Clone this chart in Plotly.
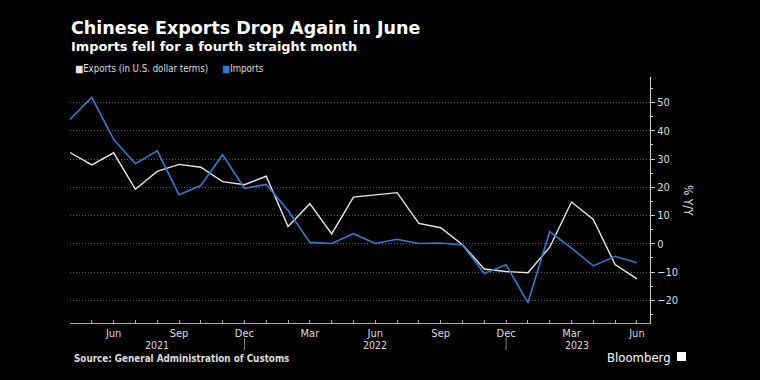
import plotly.graph_objects as go

months = ["Apr 2021", "May 2021", "Jun 2021", "Jul 2021", "Aug 2021", "Sep 2021", "Oct 2021",
          "Nov 2021", "Dec 2021", "Jan 2022", "Feb 2022", "Mar 2022", "Apr 2022", "May 2022",
          "Jun 2022", "Jul 2022", "Aug 2022", "Sep 2022", "Oct 2022", "Nov 2022", "Dec 2022",
          "Jan 2023", "Feb 2023", "Mar 2023", "Apr 2023", "May 2023", "Jun 2023"]
exports = [32.3, 27.9, 32.2, 19.3, 25.6, 28.1, 27.1, 22.0, 20.9, 23.9, 6.1, 14.2, 3.5, 16.5,
           17.3, 18.1, 7.2, 5.7, -0.3, -8.9, -9.8, -10.2, -1.2, 14.8, 8.6, -7.3, -12.4]
imports = [44.0, 51.8, 37.0, 28.3, 32.9, 17.4, 20.6, 31.5, 19.6, 21.0, 11.8, 0.5, 0.1, 3.6,
           0.1, 1.6, 0.1, 0.3, -0.4, -10.5, -7.4, -20.8, 4.3, -1.5, -7.8, -4.4, -6.7]
month_labels = ["", "", "Jun", "", "", "Sep", "", "", "Dec", "", "", "Mar", "", "", "Jun",
                "", "", "Sep", "", "", "Dec", "", "", "Mar", "", "", "Jun"]
years = ["2021", "2022", "2023"]
year_centers = [4, 14.0, 23.25]
year_breaks = [8, 20]
y_ticks = [-20, -10, 0, 10, 20, 30, 40, 50]
series_names = ["Exports (in U.S. dollar terms)", "Imports"]

WHITE = "#e6e6e6"
BLUE = "#3479d0"
FONT = "Liberation Sans Narrow, DejaVu Sans Condensed, Arial Narrow, sans-serif"

xs = list(range(len(months)))

fig = go.Figure()
fig.add_trace(go.Scatter(x=xs, y=exports, mode="lines", line=dict(color=WHITE, width=1.4),
                         name=series_names[0], text=months, hoverinfo="text+y"))
fig.add_trace(go.Scatter(x=xs, y=imports, mode="lines", line=dict(color=BLUE, width=1.6),
                         name=series_names[1], text=months, hoverinfo="text+y"))

fig.update_layout(
    width=760, height=380,
    paper_bgcolor="black", plot_bgcolor="black",
    margin=dict(l=70, r=110, t=77, b=57),
    font=dict(family=FONT, color="#dddddd", size=11),
    showlegend=False,
    xaxis=dict(range=[0, 26.6], tickmode="array", tickvals=xs, ticktext=month_labels,
               showgrid=False, zeroline=False, showline=True, linecolor="#aaaaaa", linewidth=1,
               ticks="inside", ticklen=3, tickcolor="#aaaaaa",
               tickfont=dict(size=11, color="#dddddd", family=FONT), fixedrange=True),
    yaxis=dict(range=[-28, 59], side="right", tickmode="array", tickvals=y_ticks,
               showgrid=True, gridcolor="#606060", griddash="1px,2px", gridwidth=1,
               zeroline=False, showline=True, linecolor="#cccccc", linewidth=1,
               ticks="outside", ticklen=4, tickcolor="#cccccc",
               minor=dict(tickvals=[-25, -15, -5, 5, 15, 25, 35, 45, 55], ticks="outside",
                          ticklen=2, tickcolor="#cccccc", showgrid=False),
               tickfont=dict(size=11, color="#dddddd", family=FONT), fixedrange=True),
)

PH = 246.0
PW = 580.0

def py(pix):
    return (380 - 57 - pix) / PH

def px(pix):
    return (pix - 70) / PW

ann = []
ann.append(dict(text="<b>Chinese Exports Drop Again in June</b>", xref="paper", yref="paper",
                x=px(69), y=py(28), xanchor="left", yanchor="middle",
                showarrow=False, font=dict(family="DejaVu Sans", size=17.5, color="white")))
ann.append(dict(text="<b>Imports fell for a fourth straight month</b>", xref="paper", yref="paper",
                x=px(69), y=py(46), xanchor="left", yanchor="middle",
                showarrow=False, font=dict(family="DejaVu Sans", size=12.9, color="white")))
legend_x = [73, 220]
for name, col, lx in zip(series_names, [WHITE, BLUE], legend_x):
    ann.append(dict(text='<span style="color:%s">■</span>%s' % (col, name),
                    xref="paper", yref="paper", x=px(lx), y=py(68),
                    xanchor="left", yanchor="middle", showarrow=False,
                    font=dict(size=9.6, color="#dddddd", family=FONT)))
for yr, c in zip(years, year_centers):
    ann.append(dict(text=yr, x=c, xref="x", y=py(345), yref="paper",
                    xanchor="center", yanchor="middle", showarrow=False,
                    font=dict(size=10.5, color="#dddddd", family=FONT)))
ann.append(dict(text="<b>Source: General Administration of Customs</b>", xref="paper", yref="paper",
                x=px(72), y=py(358), xanchor="left", yanchor="middle", showarrow=False,
                font=dict(size=9.8, color="#dddddd", family=FONT)))
ann.append(dict(text="Bloomberg", xref="paper", yref="paper",
                x=px(673), y=py(357), xanchor="right", yanchor="middle",
                showarrow=False, font=dict(size=13, color="white", family=FONT)))
ann.append(dict(text="% Y/Y", xref="paper", yref="paper", x=px(688), y=py(200),
                xanchor="center", yanchor="middle", showarrow=False, textangle=90,
                font=dict(size=12, color="#dddddd", family=FONT)))
fig.update_layout(annotations=ann)

shapes = []
for b in year_breaks:
    shapes.append(dict(type="line", xref="x", yref="paper", x0=b, x1=b,
                       y0=py(338), y1=py(350),
                       line=dict(color="#888888", width=1)))
shapes.append(dict(type="rect", xref="paper", yref="paper",
                   x0=px(677), x1=px(686), y0=py(361), y1=py(352),
                   fillcolor="white", line=dict(width=0)))
fig.update_layout(shapes=shapes)

fig.write_html("out.html", config={"displayModeBar": False})

with open("out.html", "r", encoding="utf-8") as f:
    html = f.read()
html = html.replace("<head>", "<head><style>html,body{margin:0;padding:0;background:black;}</style>", 1)
with open("out.html", "w", encoding="utf-8") as f:
    f.write(html)
